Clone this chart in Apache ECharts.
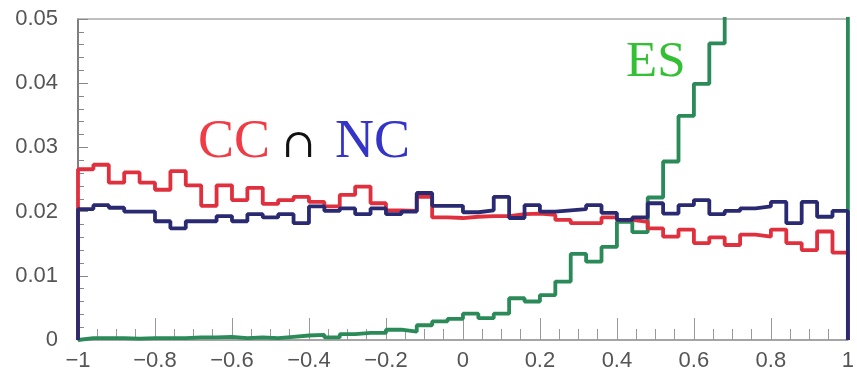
<!DOCTYPE html>
<html><head><meta charset="utf-8">
<script src="https://cdn.jsdelivr.net/npm/echarts@6/dist/echarts.min.js"></script>
<style>html,body{margin:0;padding:0;background:#fff}#c{width:857px;height:384px}</style>
</head><body><div id="c"></div>
<script>
// Lower edges of the 50 bins (cos theta)
const binStart = [-1.00,-0.96,-0.92,-0.88,-0.84,-0.80,-0.76,-0.72,-0.68,-0.64,
  -0.60,-0.56,-0.52,-0.48,-0.44,-0.40,-0.36,-0.32,-0.28,-0.24,
  -0.20,-0.16,-0.12,-0.08,-0.04,0.00,0.04,0.08,0.12,0.16,
  0.20,0.24,0.28,0.32,0.36,0.40,0.44,0.48,0.52,0.56,
  0.60,0.64,0.68,0.72,0.76,0.80,0.84,0.88,0.92,0.96];
const xEnd = 1.0;
const ccValues = [0.0266,0.0273,0.0245,0.0261,0.0245,0.0234,0.0263,0.0241,0.0209,0.0241,
  0.0218,0.0237,0.0212,0.0218,0.0223,0.0215,0.0208,0.0226,0.0239,0.0213,
  0.0202,0.0201,0.0223,0.0191,0.0190,0.0192,0.0193,0.0193,0.0196,0.0197,
  0.0195,0.0187,0.0182,0.0182,0.0191,0.0187,0.0184,0.0174,0.0161,0.0172,
  0.0151,0.0160,0.0148,0.0164,0.0161,0.0172,0.0151,0.0140,0.0169,0.0136];
const ncValues = [0.0204,0.0210,0.0206,0.0200,0.0200,0.0185,0.0174,0.0185,0.0185,0.0193,
  0.0185,0.0196,0.0191,0.0196,0.0182,0.0208,0.0201,0.0205,0.0196,0.0205,
  0.0196,0.0200,0.0229,0.0209,0.0209,0.0199,0.0202,0.0223,0.0190,0.0210,
  0.0200,0.0202,0.0204,0.0210,0.0198,0.0187,0.0191,0.0213,0.0197,0.0210,
  0.0218,0.0196,0.0201,0.0205,0.0208,0.0215,0.0182,0.0215,0.0192,0.0201];
const esValues = [0.0003,0.0003,0.0003,0.0002,0.0003,0.0003,0.0003,0.0004,0.0004,0.0005,
  0.0003,0.0004,0.0003,0.0005,0.0007,0.0008,0.0004,0.0009,0.0011,0.0011,
  0.0016,0.0013,0.0023,0.0029,0.0033,0.0041,0.0034,0.0041,0.0065,0.0060,
  0.0070,0.0091,0.0134,0.0122,0.0145,0.0184,0.0168,0.0222,0.0278,0.0349,
  0.0399,0.0462,0.055,0.060,0.065,0.070,0.075,0.080,0.085,0.090];
const xTicks = [-1,-0.8,-0.6,-0.4,-0.2,0,0.2,0.4,0.6,0.8,1];
const yTicks = [0,0.01,0.02,0.03,0.04,0.05];

function hist(vals){
  const d = [[binStart[0],0]];
  for(let i=0;i<vals.length;i++) d.push([binStart[i],vals[i]]);
  d.push([xEnd, vals[vals.length-1]]);
  d.push([xEnd, 0]);
  return d;
}
const fmt = v => { const s = String(Math.round(v*10)/10); return s.replace('-', '\u2212'); };
const chart = echarts.init(document.getElementById('c'));
const serif = '"Liberation Serif","DejaVu Serif",serif';
chart.setOption({
  animation:false,
  grid:{left:78,right:6,top:19,bottom:44},
  xAxis:[{type:'value',min:-1,max:1,interval:0.2,
    axisLine:{onZero:false,lineStyle:{color:'#888',width:1.5}},
    axisTick:{inside:true,length:22,lineStyle:{color:'#999'}},
    minorTick:{show:true,splitNumber:4,length:11,lineStyle:{color:'#999'}},
    splitLine:{show:false},
    axisLabel:{formatter:fmt,fontSize:22,color:'#555',fontFamily:'"Liberation Sans",Arial,sans-serif',margin:10}},
   {type:'value',min:-1,max:1,position:'top',axisLine:{show:true,onZero:false,lineStyle:{color:'#aaa',width:1.5}},
    axisTick:{show:false},axisLabel:{show:false},splitLine:{show:false}}],
  yAxis:{type:'value',min:0,max:0.05,interval:0.01,
    axisLine:{show:true,onZero:false,lineStyle:{color:'#555',width:1.5}},
    axisTick:{inside:true,length:10,lineStyle:{color:'#888'}},
    minorTick:{show:true,splitNumber:5,length:6,lineStyle:{color:'#888'}},
    splitLine:{show:false},
    axisLabel:{formatter:v=>v===0?'0':v.toFixed(2),fontSize:22,color:'#555',fontFamily:'"Liberation Sans",Arial,sans-serif',margin:20}},
  series:[
    {type:'line',step:'end',data:hist(esValues),symbol:'none',clip:true,lineStyle:{color:'#2a8a58',width:3.8}},
    {type:'line',step:'end',data:hist(ccValues),symbol:'none',clip:true,lineStyle:{color:'#e0303e',width:3.8}},
    {type:'line',step:'end',data:hist(ncValues),symbol:'none',clip:true,lineStyle:{color:'#2a2a72',width:3.8}}
  ],
  graphic:[
    {type:'text',left:198,top:116,style:{text:'CC',font:'54px '+serif,fill:'#f03c46'}},
    {type:'text',left:282,top:127,style:{text:'\u2229',font:'40px "DejaVu Serif",serif',fill:'#111'}},
    {type:'text',left:335,top:116,style:{text:'NC',font:'54px '+serif,fill:'#3434c8'}},
    {type:'text',left:626,top:37,style:{text:'ES',font:'51px '+serif,fill:'#34c034'}}
  ]
});
</script></body></html>
